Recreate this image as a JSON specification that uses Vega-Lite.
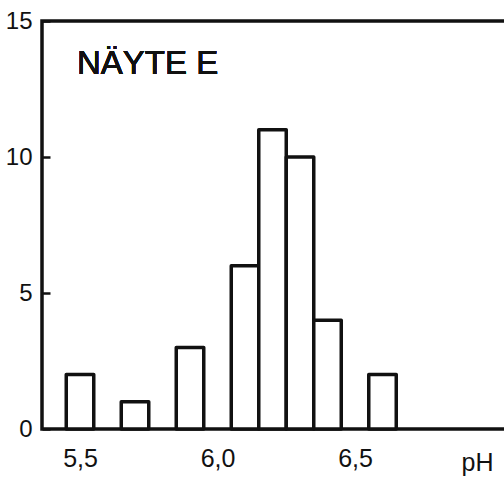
{
  "$schema": "https://vega.github.io/schema/vega-lite/v6.json",
  "autosize": {"type": "none"},
  "padding": {"left": 42, "top": 21, "right": 0, "bottom": 49},
  "width": 465,
  "height": 408,
  "background": "white",
  "config": {
    "font": "Liberation Sans",
    "view": {"stroke": "#111", "strokeWidth": 3.5}
  },
  "data": {
    "values": [
      {"lo": 5.45, "hi": 5.55, "count": 2},
      {"lo": 5.65, "hi": 5.75, "count": 1},
      {"lo": 5.85, "hi": 5.95, "count": 3},
      {"lo": 6.05, "hi": 6.15, "count": 6},
      {"lo": 6.15, "hi": 6.25, "count": 11},
      {"lo": 6.25, "hi": 6.35, "count": 10},
      {"lo": 6.35, "hi": 6.45, "count": 4},
      {"lo": 6.55, "hi": 6.65, "count": 2}
    ]
  },
  "layer": [
    {
      "mark": {"type": "rect", "fill": "white", "stroke": "#111", "strokeWidth": 3.5, "strokeJoin": "round"},
      "encoding": {
        "x": {
          "field": "lo",
          "type": "quantitative",
          "scale": {"domain": [5.3618, 7.0527], "nice": false, "zero": false},
          "axis": {
            "values": [5.5, 6.0, 6.5],
            "labelExpr": "replace(format(datum.value, '.1f'), '.', ',')",
            "ticks": false,
            "domain": false,
            "grid": false,
            "labelPadding": 17,
            "labelFontSize": 25,
            "labelColor": "#111",
            "title": "pH",
            "titleFontSize": 25,
            "titleFontWeight": "normal",
            "titleColor": "#111",
            "titleX": 435,
            "titleY": 41,
            "titleAlign": "center",
            "titleBaseline": "alphabetic"
          }
        },
        "x2": {"field": "hi"},
        "y": {
          "field": "count",
          "type": "quantitative",
          "scale": {"domain": [0, 15], "nice": false},
          "axis": {
            "values": [0, 5, 10, 15],
            "grid": false,
            "domain": false,
            "tickSize": -8,
            "tickWidth": 2.5,
            "tickColor": "#111",
            "labelPadding": 18,
            "labelFontSize": 24,
            "labelColor": "#111",
            "title": null
          }
        },
        "y2": {"datum": 0}
      }
    },
    {
      "mark": {"type": "text", "text": "NÄYTE E", "align": "left", "baseline": "alphabetic", "fontSize": 33, "color": "#111"},
      "encoding": {
        "x": {"datum": 5.489, "type": "quantitative"},
        "y": {"datum": 13.05, "type": "quantitative"}
      }
    }
  ]
}
